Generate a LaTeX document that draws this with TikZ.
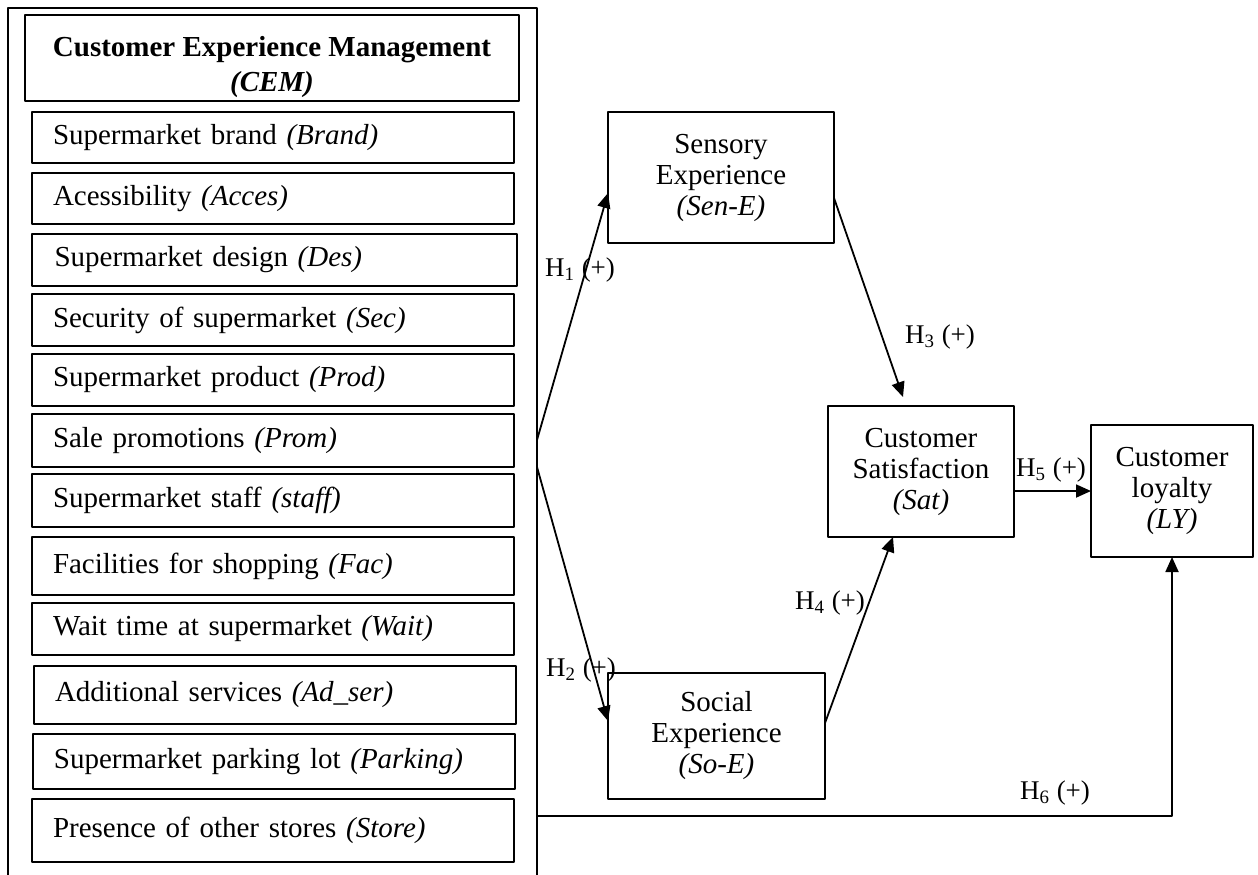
\documentclass[tikz,border=0pt]{standalone}
\usepackage{fontspec}
\setmainfont{Liberation Serif}
\usetikzlibrary{arrows.meta}

\begin{document}
\begin{tikzpicture}[x=0.5pt, y=-0.5pt, >={Triangle[length=7.5pt,width=6.5pt]}, line cap=round, line join=round]

% --- Styles for the model ---
\tikzset{
    box/.style={
        draw=black,
        line width=0.9pt,
        anchor=north west,
        inner sep=0pt,
        outer sep=0pt,
        font=\fontsize{14.5}{15.5}\selectfont
    },
    itembox/.style={
        box,
        minimum width=241pt,
        text width=220pt,
        inner xsep=10.5pt,
        align=left
    },
    conceptbox/.style={
        box,
        align=center
    },
    link/.style={
        ->,
        line width=0.9pt
    },
    hyp/.style={
        font=\fontsize{13.5}{15}\selectfont,
        inner sep=0pt
    }
}

\useasboundingbox (0,0) rectangle (1258,874);

% =========================================================================
% --- Left column: CEM and its factors ---
% =========================================================================
\node[box, minimum width=264.5pt, minimum height=446pt] (frame) at (8,8) {}; % open at the bottom
\node[conceptbox, minimum width=247pt, minimum height=43pt] (cem) at (25,15)
    {\rule{0pt}{19pt}\textbf{Customer Experience Management}\\[2pt]\textbf{\textit{(CEM)}}};

\node[itembox, minimum height=25.5pt] (brand)   at (32,112) {Supermarket brand \textit{(Brand)}};
\node[itembox, minimum height=25.5pt] (acces)   at (32,173) {Acessibility \textit{(Acces)}};
\node[itembox, minimum height=26pt, minimum width=242.5pt] (des) at (32,234) {Supermarket design \textit{(Des)}};
\node[itembox, minimum height=26pt]   (sec)     at (32,294) {Security of supermarket \textit{(Sec)}};
\node[itembox, minimum height=26pt]   (prod)    at (32,354) {Supermarket product \textit{(Prod)}};
\node[itembox, minimum height=26.5pt] (prom)    at (32,414) {Sale promotions \textit{(Prom)}};
\node[itembox, minimum height=26.5pt] (staff)   at (32,474) {Supermarket staff \textit{(staff)}};
\node[itembox, minimum height=29pt]   (fac)     at (32,537) {Facilities for shopping \textit{(Fac)}};
\node[itembox, minimum height=26pt]   (wait)    at (32,603) {Wait time at supermarket \textit{(Wait)}};
\node[itembox, minimum height=29pt]   (adser)   at (34,666) {Additional services \textit{(Ad\_ser)}};
\node[itembox, minimum height=27.5pt] (parking) at (33,734) {Supermarket parking lot \textit{(Parking)}};
\node[itembox, minimum height=31.5pt] (store)   at (32,799) {Presence of other stores \textit{(Store)}};

% =========================================================================
% --- Right part: experiences, satisfaction, loyalty ---
% =========================================================================
\node[conceptbox, minimum width=113pt, minimum height=65.5pt] (sen) at (608,112)
    {Sensory\\Experience\\\textit{(Sen-E)}};
\node[conceptbox, minimum width=108.5pt, minimum height=63pt] (soc) at (608,673)
    {Social\\Experience\\\textit{(So-E)}};
\node[conceptbox, minimum width=93pt, minimum height=65.5pt] (sat) at (828,406)
    {Customer\\Satisfaction\\\textit{(Sat)}};
\node[conceptbox, minimum width=81pt, minimum height=66pt] (ly) at (1091,425)
    {Customer\\loyalty\\\textit{(LY)}};

% --- Hypotheses ---
\draw[link] (frame.east |- 0,440) -- (sen.west |- 0,193);               % H1
\draw[link] (frame.east |- 0,467) -- (soc.west |- 0,721);               % H2
\draw[link] (sen.east |- 0,198) -- ([xshift=-9pt,yshift=4.5pt]sat.north); % H3
\draw[link] (soc.east |- 0,723) -- ([xshift=-14pt]sat.south);          % H4
\draw[link] (sat.east |- ly.west) -- (ly.west);                         % H5
\draw[link] (frame.east |- 0,816) -| (ly.south);                        % H6

\node[hyp] (h1) at (580,270)  {H\textsubscript{1} (+)};
\node[hyp] (h2) at (581,670)  {H\textsubscript{2} (+)};
\node[hyp] (h3) at (940,337)  {H\textsubscript{3} (+)};
\node[hyp] (h4) at (830,603)  {H\textsubscript{4} (+)};
\node[hyp] (h5) at (1051,470) {H\textsubscript{5} (+)};
\node[hyp] (h6) at (1055,793) {H\textsubscript{6} (+)};

\end{tikzpicture}
\end{document}
